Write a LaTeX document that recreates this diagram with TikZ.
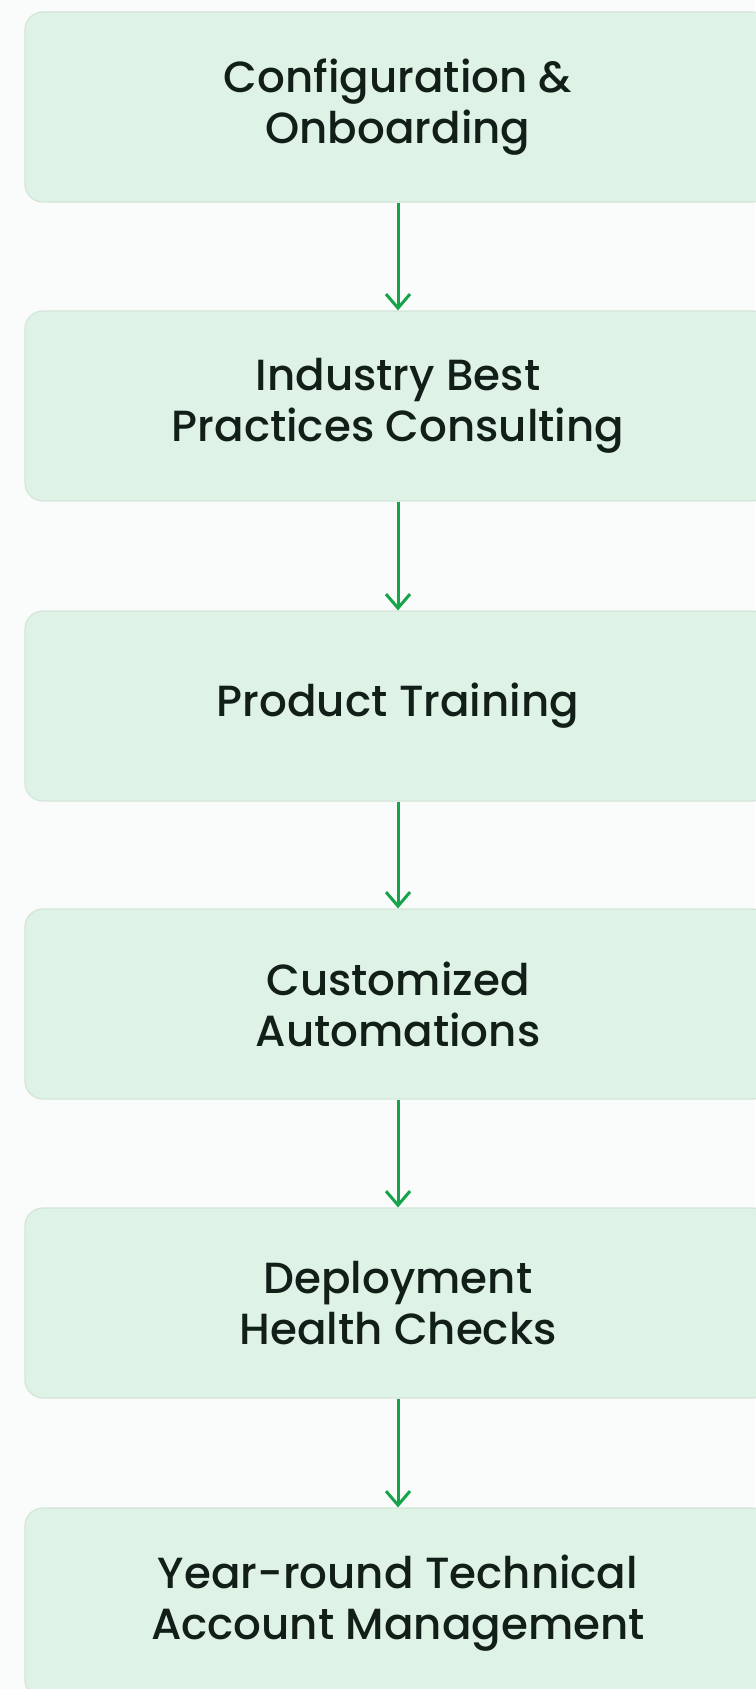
\documentclass[tikz,border=0pt]{standalone}
\usepackage{fontspec}
\setmainfont{Poppins}[UprightFont=* Medium]
\usetikzlibrary{arrows.meta}
\definecolor{pagebg}{HTML}{FAFCFB}
\definecolor{boxfill}{HTML}{DFF2E6}
\definecolor{boxline}{HTML}{D3E4D9}
\definecolor{flowgreen}{HTML}{16A34A}
\definecolor{textdark}{HTML}{111F18}
\begin{document}
\begin{tikzpicture}[
    x=0.5pt, y=-0.5pt,
    stage/.style={rectangle, draw=boxline, fill=boxfill, line width=0.6pt, rounded corners=9pt, minimum width=373pt, minimum height=95pt, align=center, text=textdark, font=\fontsize{21.8}{25.5}\selectfont},
    flow/.style={draw=flowgreen, line width=1.5pt, -{Straight Barb[length=7pt,width=12pt,line width=1.5pt]}}
]
\useasboundingbox[fill=pagebg] (0,0) rectangle (755,1689);

% Etapes du parcours
\node[stage] (config) at (398,107) {Configuration \&\\Onboarding};
\node[stage] (practices) at (398,406) {Industry Best\\Practices Consulting};
\node[stage] (training) at (398,706) {Product Training};
\node[stage] (automations) at (398,1004) {Customized\\Automations};
\node[stage] (health) at (398,1303) {Deployment\\Health Checks};
\node[stage] (account) at (398,1603) {Year-round Technical\\Account Management};

% Fleches entre les etapes
\foreach \a/\b in {config/practices, practices/training, training/automations, automations/health, health/account}
    \draw[flow] (\a.south) -- (\b.north);

\end{tikzpicture}
\end{document}
